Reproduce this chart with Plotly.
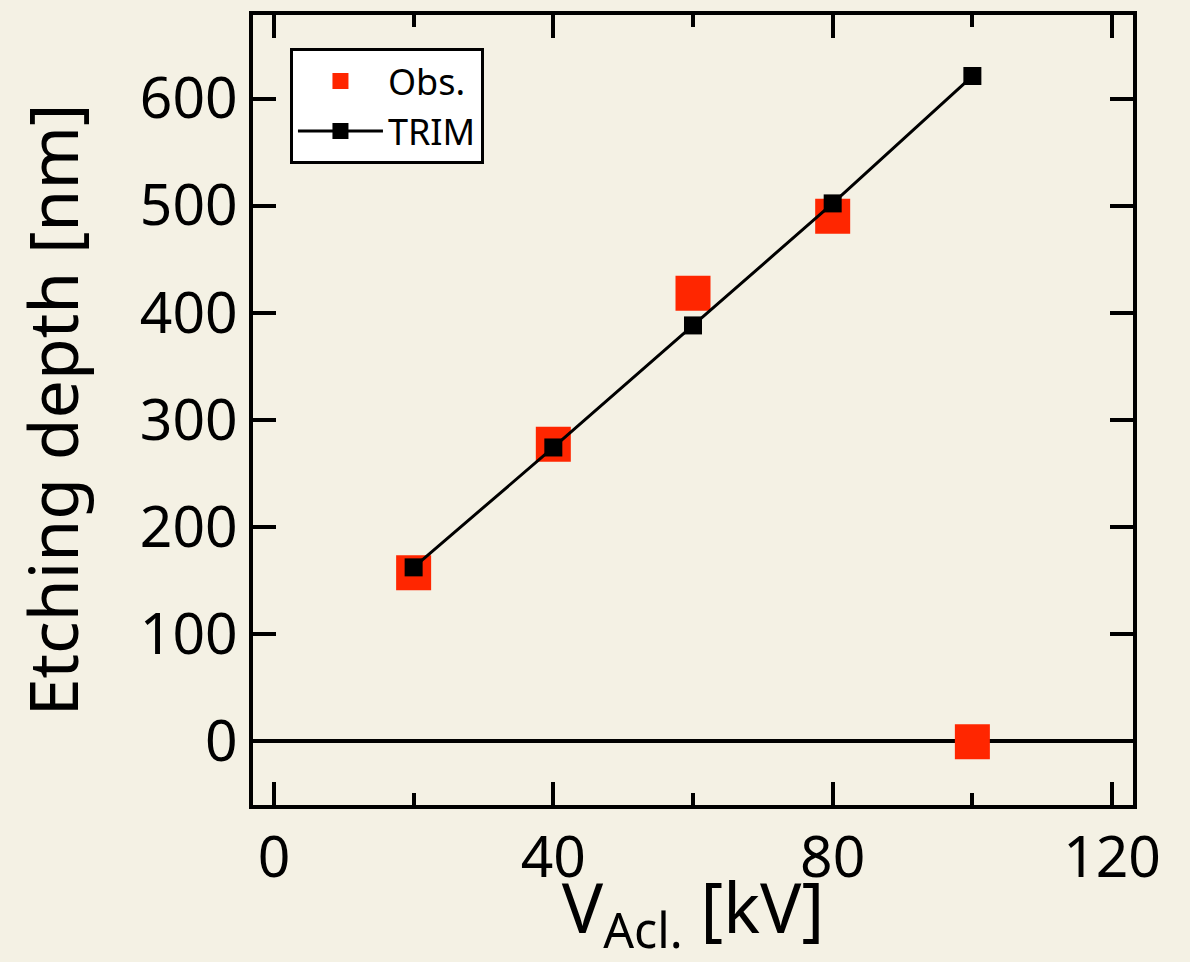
import plotly.graph_objects as go

voltage = [20, 40, 60, 80, 100]
obs_depth = [157, 277, 418, 490, -1]
trim_depth = [162, 274, 388, 502, 621]

x_ticks = [0, 40, 80, 120]
x_minor = [20, 60, 100]
y_ticks = [0, 100, 200, 300, 400, 500, 600]

BG = "#f4f1e4"
RED = "#ff2600"
FONT = "Noto Sans"

fig = go.Figure()
fig.add_trace(go.Scatter(
    x=voltage, y=obs_depth, mode="markers", name="Obs.",
    marker=dict(symbol="square", size=35, color=RED, line=dict(width=0)),
))
fig.add_trace(go.Scatter(
    x=voltage, y=trim_depth, mode="lines+markers", name="TRIM",
    line=dict(color="black", width=3),
    marker=dict(symbol="square", size=18, color="black", line=dict(width=0)),
))

fig.update_layout(
    width=1190, height=962,
    paper_bgcolor=BG, plot_bgcolor=BG,
    margin=dict(l=253, r=57, t=11, b=157),
    font=dict(family=FONT, color="black"),
    showlegend=True,
    legend=dict(
        x=0.042, y=0.958, xanchor="left", yanchor="top",
        bgcolor="white", bordercolor="black", borderwidth=3,
        font=dict(size=36, family=FONT),
        itemsizing="trace", itemwidth=85, tracegroupgap=0,
    ),
    xaxis=dict(
        range=[-3, 123], tickvals=x_ticks, ticktext=[str(v) for v in x_ticks],
        ticks="inside", ticklen=23, tickwidth=4, tickcolor="black",
        minor=dict(tickvals=x_minor, ticks="inside", ticklen=12, tickwidth=4, tickcolor="black"),
        showline=True, linecolor="black", linewidth=4, mirror="ticks",
        showgrid=False, zeroline=False,
        tickfont=dict(size=57, family=FONT),
        title=dict(text="V<sub>Acl.</sub> [kV]", font=dict(size=69, family=FONT), standoff=7),
    ),
    yaxis=dict(
        range=[-60, 678], tickvals=y_ticks, ticktext=[str(v) for v in y_ticks],
        ticks="inside", ticklen=23, tickwidth=4, tickcolor="black",
        showline=True, linecolor="black", linewidth=4, mirror="ticks",
        showgrid=False, zeroline=True, zerolinecolor="black", zerolinewidth=4,
        tickfont=dict(size=57, family=FONT),
        title=dict(text="Etching depth [nm]", font=dict(size=68, family=FONT), standoff=40),
    ),
)

fig.write_html(
    "out.html",
    config={"displayModeBar": False},
    post_script="document.body.style.margin='0';document.body.style.background='%s';" % BG,
)
